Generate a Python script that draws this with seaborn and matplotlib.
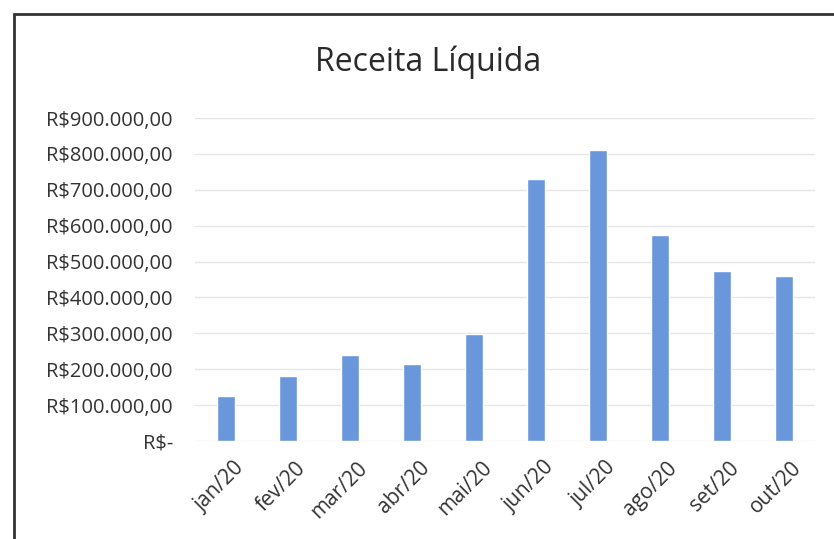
import matplotlib
matplotlib.use("Agg")
import matplotlib.pyplot as plt
import matplotlib.transforms as mtransforms
import seaborn as sns
import pandas as pd
from matplotlib.ticker import FuncFormatter, MultipleLocator
from matplotlib.patches import Rectangle

meses = ["jan/20", "fev/20", "mar/20", "abr/20", "mai/20",
         "jun/20", "jul/20", "ago/20", "set/20", "out/20"]
receita = [125000, 182000, 240000, 215000, 297000,
           730000, 810000, 575000, 475000, 460000]

df = pd.DataFrame({"mes": meses, "receita": receita})

sns.set_theme(style="white")
plt.rcParams["font.family"] = ["Open Sans", "DejaVu Sans"]

def brl(v, pos):
    if v == 0:
        return "R$-"
    s = f"{v:,.2f}"
    s = s.replace(",", "X").replace(".", ",").replace("X", ".")
    return "R$" + s

fig = plt.figure(figsize=(8.34, 5.39), dpi=100)
ax = fig.add_axes([0.234, 0.182, 0.743, 0.599])

sns.barplot(data=df, x="mes", y="receita", color="#6a97dc", width=0.3,
            saturation=1, ax=ax)

ax.set_ylim(0, 900000)
ax.set_xlim(-0.5, len(meses) - 0.5)
ax.yaxis.set_major_locator(MultipleLocator(100000))
ax.yaxis.set_major_formatter(FuncFormatter(brl))
ax.grid(axis="y", color="#e6e6e6", linewidth=1)
ax.set_axisbelow(True)
for s in ax.spines.values():
    s.set_visible(False)
ax.tick_params(axis="y", length=0, labelsize=14.5, colors="#333333", pad=16)
ax.tick_params(axis="x", length=0, labelsize=15, colors="#333333", pad=12)
ax.set_xlabel("")
ax.set_ylabel("")
desloc = mtransforms.ScaledTranslation(0.07, 0, fig.dpi_scale_trans)
for lbl in ax.get_xticklabels():
    lbl.set_rotation(45)
    lbl.set_ha("right")
    lbl.set_rotation_mode("anchor")
    lbl.set_transform(lbl.get_transform() + desloc)

fig.text(0.513, 0.885, "Receita Líquida", ha="center", va="center",
         fontsize=23, color="#2a2a2a")

# moldura do gráfico
fig.patches.append(Rectangle((14 / 834, -0.01), 1.0, 0.984, transform=fig.transFigure,
                             fill=False, edgecolor="#333333", linewidth=2))

fig.savefig("out.png", dpi=100)
